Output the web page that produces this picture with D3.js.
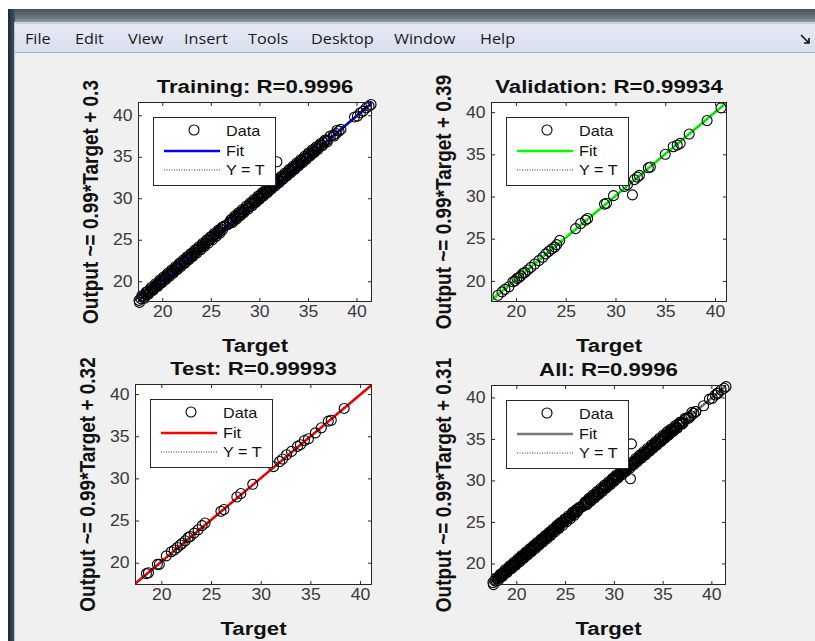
<!DOCTYPE html>
<html><head><meta charset="utf-8">
<script src="https://cdn.jsdelivr.net/npm/d3@7"></script>
<style>
html,body{margin:0;padding:0;background:#fff;}
svg{display:block;font-family:"Liberation Sans",Arial,sans-serif;}
</style></head>
<body>
<svg id="chart" width="815" height="641"></svg>
<script>
// ---------------- DATA ----------------
const menuItems = ["File","Edit","View","Insert","Tools","Desktop","Window","Help"];
const titles = ["Training: R=0.9996","Validation: R=0.99934","Test: R=0.99993","All: R=0.9996"];
const yLabels = ["Output ~= 0.99*Target + 0.3","Output ~= 0.99*Target + 0.39","Output ~= 0.99*Target + 0.32","Output ~= 0.99*Target + 0.31"];
const fitSlopes = [0.99,0.99,0.99,0.99];
const fitIntercepts = [0.3,0.39,0.32,0.31];
const axisLimits = [[17.5,41.6],[17.5,41.2],[17.35,41.2],[17.4,41.5]];
const tickValues = [20,25,30,35,40];
const legendLabels = ["Data","Fit","Y = T"];
const xLabel = "Target";

const trainTarget = [17.6,17.8,18.0,18.1,18.3,18.4,18.5,18.7,18.8,18.9,19.0,19.2,19.3,19.4,19.5,19.7,19.8,19.9,20.0,20.2,
 20.3,20.4,20.6,20.7,20.8,21.0,21.1,21.2,21.4,21.5,21.6,21.8,21.9,22.0,22.2,22.3,22.5,22.6,22.7,22.9,
 23.0,23.1,23.3,23.4,23.5,23.7,23.8,24.0,24.1,24.2,24.4,24.5,24.7,24.8,25.0,25.1,25.3,25.4,25.6,25.7,
 25.9,26.0,26.2,26.3,26.5,26.7,26.9,27.0,27.2,27.3,27.5,27.6,27.8,27.9,28.1,28.2,28.4,28.5,28.7,28.9,
 29.0,29.2,29.4,29.5,29.7,29.8,30.0,30.1,30.2,30.4,30.5,30.7,30.8,31.0,31.1,31.3,31.4,31.6,31.8,31.8,
 31.9,32.1,32.2,32.4,32.5,32.7,32.8,33.0,33.1,33.3,33.4,33.6,33.7,33.9,34.0,34.2,34.3,34.5,34.6,34.8,
 34.9,35.1,35.2,35.4,35.5,35.6,35.8,35.9,36.1,36.2,36.4,36.6,36.8,37.0,37.6,37.9,38.2,38.4,39.8,40.1,
 40.4,40.7,41.0,41.3,41.5,
 17.65,17.9,18.15,18.35,18.6,18.85,19.05,19.3,19.55,19.75,19.95,20.15,20.35,20.55,20.75,20.95,21.15,21.35,21.55,21.75,
 21.95,22.15,22.35,22.55,22.75,22.95,23.15,23.35,23.55,23.75,23.95,24.15,24.35,24.55,24.75,24.95,25.15,25.35,25.55,25.75,
 25.95,26.15,27.05,27.25,27.45,27.65,27.85,28.05,28.25,28.45,28.65,28.85,29.05,29.25,29.45,29.65,29.85,30.05,30.25,30.45,
 30.65,30.85,31.05,31.25,31.45,31.65,31.85,32.05,32.25,32.45,32.65,32.85,33.05,33.25,33.45,33.65,33.85,34.05,34.25,34.45,
 34.65,34.85,35.05,35.25,35.45,35.65,35.85,36.05,36.3,36.5,36.75,37.0,37.3,37.7,38.0];
const trainOutput = [17.7,17.9,18.2,18.1,18.5,18.4,18.8,18.7,18.9,19.1,19.0,19.4,19.3,19.6,19.5,19.9,19.8,20.1,20.0,20.3,
 20.5,20.4,20.8,20.7,21.0,21.1,21.3,21.2,21.6,21.5,21.8,21.9,22.2,22.0,22.4,22.3,22.7,22.6,22.9,23.0,
 23.3,23.1,23.5,23.4,23.8,23.8,24.0,24.1,24.4,24.2,24.6,24.6,24.9,25.0,25.1,25.4,25.4,25.6,25.7,25.9,
 26.0,26.3,26.2,26.6,26.7,26.8,27.1,27.0,27.5,27.3,27.7,27.6,28.0,27.9,28.3,28.2,28.6,28.5,28.8,29.1,
 29.0,29.4,29.4,29.7,29.7,30.0,30.0,30.4,30.2,30.6,30.5,30.9,30.8,31.2,31.1,31.5,31.4,31.8,34.4,31.8,
 32.1,32.1,32.4,32.4,32.7,32.7,33.0,33.0,33.3,33.3,33.6,33.6,33.9,33.9,34.2,34.2,34.5,34.5,34.8,34.8,
 35.1,35.1,35.4,35.4,35.7,35.6,36.0,35.9,36.2,36.4,36.4,36.7,36.9,37.0,37.6,37.8,38.1,38.3,39.8,39.9,
 40.3,40.5,40.9,41.1,41.3,
 17.45,18.25,17.95,18.7,18.45,19.25,18.9,19.7,19.4,20.15,19.8,20.55,20.2,20.95,20.6,21.35,21.0,21.75,21.4,22.15,
 21.8,22.55,22.2,22.95,22.6,23.35,23.0,23.75,23.4,24.15,23.8,24.55,24.2,24.95,24.6,25.35,25.0,25.75,25.4,26.15,
 25.8,26.5,27.4,27.1,27.85,27.5,28.25,27.9,28.65,28.3,29.05,28.7,29.45,29.1,29.85,29.5,30.25,29.9,30.65,30.3,
 31.05,30.7,31.45,31.1,31.85,31.5,32.2,31.9,32.65,32.3,33.05,32.7,33.45,33.1,33.85,33.5,34.25,33.9,34.65,34.3,
 35.05,34.7,35.45,35.1,35.85,35.5,36.2,35.9,36.6,36.35,37.0,36.8,37.5,37.5,38.2];

const valTarget = [18.2,18.6,18.9,19.3,19.7,19.9,20.1,20.3,20.5,20.7,20.9,21.2,21.5,21.9,22.3,22.7,23.0,23.3,23.6,23.9,
 24.1,24.4,26.0,26.5,27.0,27.2,28.9,29.1,29.8,30.9,31.2,31.7,31.9,32.2,32.4,33.3,33.5,35.0,35.8,36.2,
 36.5,37.4,39.2,40.6];
const valOutput = [18.3,18.7,19.0,19.3,19.9,20.0,20.3,20.4,20.6,20.9,21.0,21.3,21.6,22.0,22.4,22.8,23.2,23.5,23.8,24.0,
 24.3,24.8,26.2,26.8,27.2,27.4,29.1,29.2,30.1,31.2,31.4,30.2,32.0,32.3,32.5,33.4,33.5,35.0,35.9,36.1,
 36.3,37.4,39.0,40.5];

const testTarget = [18.5,18.7,19.6,19.8,20.5,21.0,21.3,21.6,21.9,22.1,22.4,22.7,22.9,23.3,23.7,24.1,24.4,26.0,26.3,27.6,
 28.0,29.2,31.3,31.9,32.2,32.6,33.1,33.7,34.0,34.4,34.8,35.5,36.1,36.8,37.1,38.4];
const testOutput = [18.7,18.8,19.8,19.8,20.8,21.3,21.5,21.8,22.1,22.3,22.6,23.0,23.1,23.5,23.9,24.4,24.7,26.1,26.3,27.8,
 28.2,29.3,31.4,32.0,32.3,32.8,33.2,33.8,34.0,34.5,34.7,35.4,36.0,36.8,36.9,38.3];

const allTarget = trainTarget.concat(valTarget, testTarget);
const allOutput = trainOutput.concat(valOutput, testOutput);

const fitColors = ["#0000ff","#00ff00","#ff0000","#777777"];

// ---------------- LAYOUT ----------------
const boxes = [
  {x0:138,x1:372,y0:102,y1:302},
  {x0:491,x1:727,y0:102,y1:302},
  {x0:135,x1:372,y0:384,y1:585},
  {x0:491,x1:726,y0:385,y1:585}
];
const datasets = [[trainTarget,trainOutput],[valTarget,valOutput],[testTarget,testOutput],[allTarget,allOutput]];

const svg = d3.select("#chart");
const defs = svg.append("defs");

// horizontally stretched text helper (the reference screenshot is widened)
function htext(parent, x, y, str, size, sx, opts={}){
  const t = parent.append("text")
    .attr("transform",`translate(${x},${y}) scale(${sx},1)`)
    .attr("font-size",size).attr("fill",opts.fill||"#111")
    .attr("text-anchor",opts.anchor||"start").text(str);
  if(opts.bold) t.attr("font-weight","bold");
  if(opts.family) t.attr("font-family",opts.family);
  if(opts.dy) t.attr("dy",opts.dy);
  return t;
}

// ---- window chrome ----
const g1 = defs.append("linearGradient").attr("id","titlebar").attr("x1",0).attr("y1",0).attr("x2",0).attr("y2",1);
g1.append("stop").attr("offset","0%").attr("stop-color","#4b535c");
g1.append("stop").attr("offset","55%").attr("stop-color","#66717d");
g1.append("stop").attr("offset","100%").attr("stop-color","#94a0ad");
const g2 = defs.append("linearGradient").attr("id","menubar").attr("x1",0).attr("y1",0).attr("x2",0).attr("y2",1);
g2.append("stop").attr("offset","0%").attr("stop-color","#e6eaf5");
g2.append("stop").attr("offset","100%").attr("stop-color","#d9dfef");
const g3 = defs.append("linearGradient").attr("id","leftbar").attr("x1",0).attr("y1",0).attr("x2",1).attr("y2",0);
g3.append("stop").attr("offset","0%").attr("stop-color","#1d2a33");
g3.append("stop").attr("offset","100%").attr("stop-color","#3f5664");

svg.append("rect").attr("width",815).attr("height",641).attr("fill","#ffffff");
svg.append("rect").attr("x",8).attr("y",9).attr("width",807).attr("height",14).attr("fill","url(#titlebar)");
svg.append("rect").attr("x",8).attr("y",9).attr("width",7).attr("height",632).attr("fill","url(#leftbar)");
svg.append("rect").attr("x",14).attr("y",22).attr("width",801).attr("height",2).attr("fill","#c9d0d8");
svg.append("rect").attr("x",15).attr("y",24).attr("width",800).attr("height",28).attr("fill","url(#menubar)");
svg.append("rect").attr("x",15).attr("y",52).attr("width",800).attr("height",1).attr("fill","#a9b0bd");
svg.append("rect").attr("x",15).attr("y",53).attr("width",800).attr("height",588).attr("fill","#f0f0f0");
svg.append("rect").attr("x",14).attr("y",24).attr("width",1).attr("height",617).attr("fill","#b8c0c8");

const menuX = [25,75,128,184,248,311,394,480];
const menuG = svg.append("g");
menuItems.forEach((m,i)=>htext(menuG, menuX[i], 44, m, 14.5, 1.12,
  {family:"'Open Sans','Noto Sans',sans-serif", fill:"#1a1a1a"}));
// small dock arrow icon
svg.append("path").attr("d","M801,35 L809,43 M809,38 L809,43 L804,43")
  .attr("stroke","#111").attr("stroke-width",1.6).attr("fill","none");

// ---------------- PANELS ----------------
boxes.forEach((b,i)=>{
  const [lo,hi] = axisLimits[i];
  const x = d3.scaleLinear().domain([lo,hi]).range([b.x0,b.x1]);
  const y = d3.scaleLinear().domain([lo,hi]).range([b.y1,b.y0]);
  const g = svg.append("g");
  const cid = "clip"+i;
  defs.append("clipPath").attr("id",cid).append("rect")
    .attr("x",b.x0).attr("y",b.y0).attr("width",b.x1-b.x0).attr("height",b.y1-b.y0);

  g.append("rect").attr("x",b.x0).attr("y",b.y0).attr("width",b.x1-b.x0).attr("height",b.y1-b.y0)
    .attr("fill","#ffffff");

  // fit line
  const line = d3.line().x(d=>x(d[0])).y(d=>y(d[1]));
  g.append("path").attr("clip-path",`url(#${cid})`)
    .attr("d",line([[lo,fitSlopes[i]*lo+fitIntercepts[i]],[hi,fitSlopes[i]*hi+fitIntercepts[i]]]))
    .attr("stroke",fitColors[i]).attr("stroke-width",2.6).attr("fill","none");
  // Y = T
  g.append("path").attr("clip-path",`url(#${cid})`)
    .attr("d",line([[lo,lo],[hi,hi]]))
    .attr("stroke","#000").attr("stroke-width",0.8).attr("stroke-dasharray","1,2").attr("fill","none");

  // data circles
  const [tArr,oArr] = datasets[i];
  g.append("g").selectAll("circle").data(tArr.map((t,k)=>[t,oArr[k]])).join("circle")
    .attr("cx",d=>x(d[0])).attr("cy",d=>y(d[1])).attr("r",5)
    .attr("fill","none").attr("stroke","#000").attr("stroke-width",1.1);

  // axes
  const styleAxis = (sel, sx)=>{
    sel.select(".domain").remove();
    sel.selectAll(".tick line").attr("stroke","#262626");
    sel.selectAll(".tick text").attr("fill","#3a3a3a").attr("font-size",16)
      .attr("font-family","'Liberation Sans',Arial,sans-serif")
      .attr("transform",`scale(${sx},1)`);
  };
  g.append("g").attr("transform",`translate(0,${b.y1})`)
    .call(d3.axisBottom(x).tickValues(tickValues).tickSizeInner(-4).tickSizeOuter(0).tickPadding(4)).call(styleAxis,1.1);
  g.append("g").attr("transform",`translate(0,${b.y0})`)
    .call(d3.axisTop(x).tickValues(tickValues).tickSizeInner(-4).tickSizeOuter(0).tickFormat("")).call(styleAxis,1);
  g.append("g").attr("transform",`translate(${b.x0},0)`)
    .call(d3.axisLeft(y).tickValues(tickValues).tickSizeInner(-4).tickSizeOuter(0).tickPadding(5)).call(styleAxis,1.1);
  g.append("g").attr("transform",`translate(${b.x1},0)`)
    .call(d3.axisRight(y).tickValues(tickValues).tickSizeInner(-4).tickSizeOuter(0).tickFormat("")).call(styleAxis,1);

  g.append("rect").attr("x",b.x0+0.5).attr("y",b.y0+0.5).attr("width",b.x1-b.x0-1).attr("height",b.y1-b.y0-1)
    .attr("fill","none").attr("stroke","#262626").attr("stroke-width",1);

  // title & labels
  const cx = (b.x0+b.x1)/2, cy=(b.y0+b.y1)/2;
  htext(g, cx, b.y0-9, titles[i], 18.5, 1.2, {bold:true, anchor:"middle"});
  htext(g, cx, b.y1+50, xLabel, 18.5, 1.2, {bold:true, anchor:"middle"});
  g.append("text").attr("transform",`translate(${b.x0-47},${cy}) rotate(-90) scale(1,1.12)`)
    .attr("text-anchor","middle").attr("dy","0.35em")
    .attr("font-weight","bold").attr("font-size",19).attr("fill","#111").text(yLabels[i]);

  // legend
  const lx = b.x0+15, ly = b.y0+15;
  const lg = g.append("g");
  lg.append("rect").attr("x",lx+0.5).attr("y",ly+0.5).attr("width",122).attr("height",68)
    .attr("fill","#fff").attr("stroke","#262626").attr("stroke-width",1);
  const rows = [14,34,53];
  lg.append("circle").attr("cx",lx+41).attr("cy",ly+rows[0]-1).attr("r",5)
    .attr("fill","none").attr("stroke","#000").attr("stroke-width",1.1);
  lg.append("line").attr("x1",lx+11).attr("x2",lx+67).attr("y1",ly+rows[1]).attr("y2",ly+rows[1])
    .attr("stroke",fitColors[i]).attr("stroke-width",2.6);
  lg.append("line").attr("x1",lx+11).attr("x2",lx+67).attr("y1",ly+rows[2]).attr("y2",ly+rows[2])
    .attr("stroke","#000").attr("stroke-width",0.8).attr("stroke-dasharray","1,1.5");
  legendLabels.forEach((d,k)=>htext(lg, lx+73, ly+rows[k], d, 15, 1.08, {dy:"0.36em"}));
});
</script>
</body></html>
